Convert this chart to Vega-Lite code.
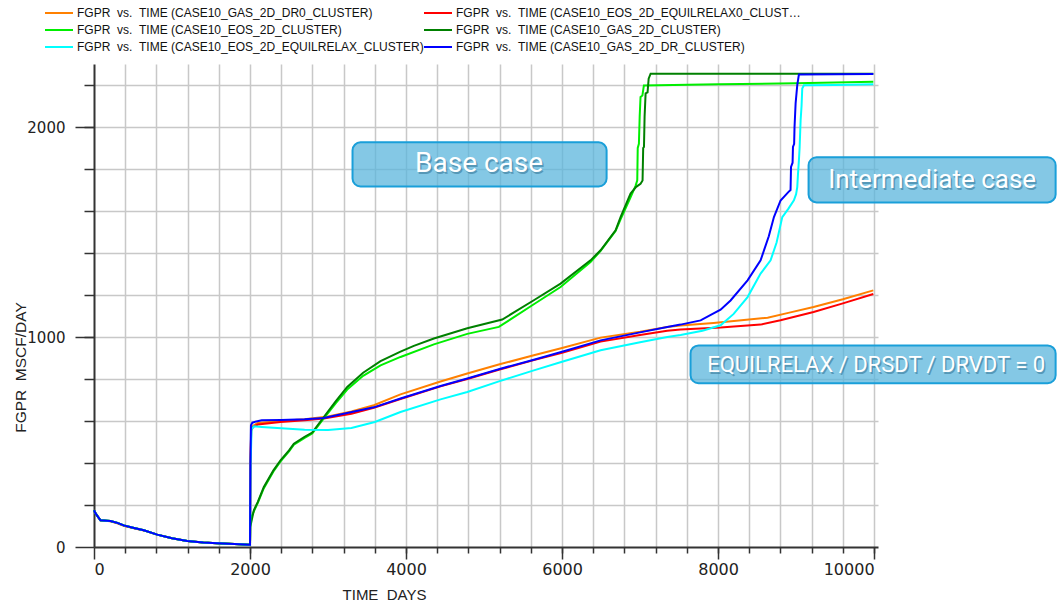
{
"$schema": "https://vega.github.io/schema/vega-lite/v6.json",
"width": 784, "height": 483,
"autosize": {"type": "none"},
"padding": {"left": 94, "top": 64, "right": 179, "bottom": 62},
"background": "#ffffff",
"config": {"view": {"stroke": null}, "axis": {"labelFont": "DejaVu Sans", "titleFont": "Liberation Sans"}},
"datasets": {
"notes": [
{"n":"Base case","x":3314,"x2":6571,"y":1927,"y2":1717,"tx":4936,"ty":1822},
{"n":"Intermediate case","x":9160,"x2":12327,"y":1856,"y2":1641,"tx":10744,"ty":1746},
{"n":"EQUILRELAX / DRSDT / DRVDT = 0","x":7647,"x2":12327,"y":960,"y2":780,"tx":10026,"ty":868}
],
"curves": [
{"s":"CASE10_GAS_2D_DR0_CLUSTER","t":0,"q":175},{"s":"CASE10_GAS_2D_DR0_CLUSTER","t":20,"q":160},{"s":"CASE10_GAS_2D_DR0_CLUSTER","t":83,"q":127},{"s":"CASE10_GAS_2D_DR0_CLUSTER","t":212,"q":124},{"s":"CASE10_GAS_2D_DR0_CLUSTER","t":300,"q":115},{"s":"CASE10_GAS_2D_DR0_CLUSTER","t":382,"q":103},{"s":"CASE10_GAS_2D_DR0_CLUSTER","t":500,"q":92},{"s":"CASE10_GAS_2D_DR0_CLUSTER","t":639,"q":80},{"s":"CASE10_GAS_2D_DR0_CLUSTER","t":810,"q":59},{"s":"CASE10_GAS_2D_DR0_CLUSTER","t":1000,"q":42},{"s":"CASE10_GAS_2D_DR0_CLUSTER","t":1195,"q":29},{"s":"CASE10_GAS_2D_DR0_CLUSTER","t":1400,"q":22},{"s":"CASE10_GAS_2D_DR0_CLUSTER","t":1579,"q":18},{"s":"CASE10_GAS_2D_DR0_CLUSTER","t":1800,"q":14},{"s":"CASE10_GAS_2D_DR0_CLUSTER","t":1990,"q":11},
{"s":"CASE10_GAS_2D_DR0_CLUSTER","t":2000,"q":11},{"s":"CASE10_GAS_2D_DR0_CLUSTER","t":2006,"q":400},{"s":"CASE10_GAS_2D_DR0_CLUSTER","t":2015,"q":560},{"s":"CASE10_GAS_2D_DR0_CLUSTER","t":2040,"q":578},{"s":"CASE10_GAS_2D_DR0_CLUSTER","t":2100,"q":590},{"s":"CASE10_GAS_2D_DR0_CLUSTER","t":2400,"q":600},{"s":"CASE10_GAS_2D_DR0_CLUSTER","t":2700,"q":608},{"s":"CASE10_GAS_2D_DR0_CLUSTER","t":3000,"q":622},{"s":"CASE10_GAS_2D_DR0_CLUSTER","t":3300,"q":645},{"s":"CASE10_GAS_2D_DR0_CLUSTER","t":3587,"q":675},{"s":"CASE10_GAS_2D_DR0_CLUSTER","t":3929,"q":727},{"s":"CASE10_GAS_2D_DR0_CLUSTER","t":4442,"q":788},{"s":"CASE10_GAS_2D_DR0_CLUSTER","t":4785,"q":826},{"s":"CASE10_GAS_2D_DR0_CLUSTER","t":5200,"q":870},{"s":"CASE10_GAS_2D_DR0_CLUSTER","t":5638,"q":913},{"s":"CASE10_GAS_2D_DR0_CLUSTER","t":6000,"q":948},{"s":"CASE10_GAS_2D_DR0_CLUSTER","t":6494,"q":997},{"s":"CASE10_GAS_2D_DR0_CLUSTER","t":7000,"q":1025},{"s":"CASE10_GAS_2D_DR0_CLUSTER","t":7348,"q":1048},{"s":"CASE10_GAS_2D_DR0_CLUSTER","t":7519,"q":1055},{"s":"CASE10_GAS_2D_DR0_CLUSTER","t":7942,"q":1067},{"s":"CASE10_GAS_2D_DR0_CLUSTER","t":8300,"q":1080},{"s":"CASE10_GAS_2D_DR0_CLUSTER","t":8635,"q":1092},{"s":"CASE10_GAS_2D_DR0_CLUSTER","t":8900,"q":1115},{"s":"CASE10_GAS_2D_DR0_CLUSTER","t":9224,"q":1143},{"s":"CASE10_GAS_2D_DR0_CLUSTER","t":9600,"q":1180},{"s":"CASE10_GAS_2D_DR0_CLUSTER","t":9990,"q":1222},
{"s":"CASE10_EOS_2D_EQUILRELAX0_CLUSTER","t":0,"q":175},{"s":"CASE10_EOS_2D_EQUILRELAX0_CLUSTER","t":20,"q":160},{"s":"CASE10_EOS_2D_EQUILRELAX0_CLUSTER","t":83,"q":127},{"s":"CASE10_EOS_2D_EQUILRELAX0_CLUSTER","t":212,"q":122},{"s":"CASE10_EOS_2D_EQUILRELAX0_CLUSTER","t":300,"q":113},{"s":"CASE10_EOS_2D_EQUILRELAX0_CLUSTER","t":382,"q":101},{"s":"CASE10_EOS_2D_EQUILRELAX0_CLUSTER","t":500,"q":90},{"s":"CASE10_EOS_2D_EQUILRELAX0_CLUSTER","t":639,"q":79},{"s":"CASE10_EOS_2D_EQUILRELAX0_CLUSTER","t":810,"q":59},{"s":"CASE10_EOS_2D_EQUILRELAX0_CLUSTER","t":1000,"q":42},{"s":"CASE10_EOS_2D_EQUILRELAX0_CLUSTER","t":1195,"q":29},{"s":"CASE10_EOS_2D_EQUILRELAX0_CLUSTER","t":1400,"q":22},{"s":"CASE10_EOS_2D_EQUILRELAX0_CLUSTER","t":1579,"q":18},{"s":"CASE10_EOS_2D_EQUILRELAX0_CLUSTER","t":1800,"q":14},{"s":"CASE10_EOS_2D_EQUILRELAX0_CLUSTER","t":1990,"q":11},
{"s":"CASE10_EOS_2D_EQUILRELAX0_CLUSTER","t":2000,"q":11},{"s":"CASE10_EOS_2D_EQUILRELAX0_CLUSTER","t":2006,"q":400},{"s":"CASE10_EOS_2D_EQUILRELAX0_CLUSTER","t":2015,"q":555},{"s":"CASE10_EOS_2D_EQUILRELAX0_CLUSTER","t":2040,"q":572},{"s":"CASE10_EOS_2D_EQUILRELAX0_CLUSTER","t":2100,"q":583},{"s":"CASE10_EOS_2D_EQUILRELAX0_CLUSTER","t":2391,"q":595},{"s":"CASE10_EOS_2D_EQUILRELAX0_CLUSTER","t":2700,"q":603},{"s":"CASE10_EOS_2D_EQUILRELAX0_CLUSTER","t":2946,"q":612},{"s":"CASE10_EOS_2D_EQUILRELAX0_CLUSTER","t":3300,"q":635},{"s":"CASE10_EOS_2D_EQUILRELAX0_CLUSTER","t":3587,"q":663},{"s":"CASE10_EOS_2D_EQUILRELAX0_CLUSTER","t":3929,"q":705},{"s":"CASE10_EOS_2D_EQUILRELAX0_CLUSTER","t":4442,"q":765},{"s":"CASE10_EOS_2D_EQUILRELAX0_CLUSTER","t":4785,"q":800},{"s":"CASE10_EOS_2D_EQUILRELAX0_CLUSTER","t":5200,"q":845},{"s":"CASE10_EOS_2D_EQUILRELAX0_CLUSTER","t":5638,"q":890},{"s":"CASE10_EOS_2D_EQUILRELAX0_CLUSTER","t":6000,"q":925},{"s":"CASE10_EOS_2D_EQUILRELAX0_CLUSTER","t":6494,"q":978},{"s":"CASE10_EOS_2D_EQUILRELAX0_CLUSTER","t":7000,"q":1010},{"s":"CASE10_EOS_2D_EQUILRELAX0_CLUSTER","t":7348,"q":1030},{"s":"CASE10_EOS_2D_EQUILRELAX0_CLUSTER","t":7519,"q":1036},{"s":"CASE10_EOS_2D_EQUILRELAX0_CLUSTER","t":8032,"q":1045},{"s":"CASE10_EOS_2D_EQUILRELAX0_CLUSTER","t":8545,"q":1059},{"s":"CASE10_EOS_2D_EQUILRELAX0_CLUSTER","t":8800,"q":1080},{"s":"CASE10_EOS_2D_EQUILRELAX0_CLUSTER","t":9224,"q":1119},{"s":"CASE10_EOS_2D_EQUILRELAX0_CLUSTER","t":9600,"q":1160},{"s":"CASE10_EOS_2D_EQUILRELAX0_CLUSTER","t":9990,"q":1205},
{"s":"CASE10_EOS_2D_CLUSTER","t":0,"q":175},{"s":"CASE10_EOS_2D_CLUSTER","t":20,"q":160},{"s":"CASE10_EOS_2D_CLUSTER","t":83,"q":127},{"s":"CASE10_EOS_2D_CLUSTER","t":212,"q":124},{"s":"CASE10_EOS_2D_CLUSTER","t":300,"q":115},{"s":"CASE10_EOS_2D_CLUSTER","t":382,"q":103},{"s":"CASE10_EOS_2D_CLUSTER","t":500,"q":92},{"s":"CASE10_EOS_2D_CLUSTER","t":639,"q":80},{"s":"CASE10_EOS_2D_CLUSTER","t":810,"q":59},{"s":"CASE10_EOS_2D_CLUSTER","t":1000,"q":42},{"s":"CASE10_EOS_2D_CLUSTER","t":1195,"q":29},{"s":"CASE10_EOS_2D_CLUSTER","t":1400,"q":22},{"s":"CASE10_EOS_2D_CLUSTER","t":1579,"q":18},{"s":"CASE10_EOS_2D_CLUSTER","t":1800,"q":14},{"s":"CASE10_EOS_2D_CLUSTER","t":1990,"q":11},
{"s":"CASE10_EOS_2D_CLUSTER","t":2000,"q":11},{"s":"CASE10_EOS_2D_CLUSTER","t":2003,"q":130},{"s":"CASE10_EOS_2D_CLUSTER","t":2049,"q":170},{"s":"CASE10_EOS_2D_CLUSTER","t":2100,"q":210},{"s":"CASE10_EOS_2D_CLUSTER","t":2177,"q":280},{"s":"CASE10_EOS_2D_CLUSTER","t":2300,"q":360},{"s":"CASE10_EOS_2D_CLUSTER","t":2391,"q":408},{"s":"CASE10_EOS_2D_CLUSTER","t":2500,"q":455},{"s":"CASE10_EOS_2D_CLUSTER","t":2562,"q":487},{"s":"CASE10_EOS_2D_CLUSTER","t":2700,"q":520},{"s":"CASE10_EOS_2D_CLUSTER","t":2797,"q":540},{"s":"CASE10_EOS_2D_CLUSTER","t":2946,"q":612},{"s":"CASE10_EOS_2D_CLUSTER","t":3100,"q":685},{"s":"CASE10_EOS_2D_CLUSTER","t":3246,"q":750},{"s":"CASE10_EOS_2D_CLUSTER","t":3450,"q":815},{"s":"CASE10_EOS_2D_CLUSTER","t":3673,"q":865},{"s":"CASE10_EOS_2D_CLUSTER","t":3929,"q":905},{"s":"CASE10_EOS_2D_CLUSTER","t":4357,"q":965},{"s":"CASE10_EOS_2D_CLUSTER","t":4785,"q":1015},{"s":"CASE10_EOS_2D_CLUSTER","t":5190,"q":1048},{"s":"CASE10_EOS_2D_CLUSTER","t":5638,"q":1156},{"s":"CASE10_EOS_2D_CLUSTER","t":5981,"q":1238},{"s":"CASE10_EOS_2D_CLUSTER","t":6365,"q":1357},{"s":"CASE10_EOS_2D_CLUSTER","t":6494,"q":1410},{"s":"CASE10_EOS_2D_CLUSTER","t":6686,"q":1505},{"s":"CASE10_EOS_2D_CLUSTER","t":6750,"q":1560},{"s":"CASE10_EOS_2D_CLUSTER","t":6878,"q":1665},{"s":"CASE10_EOS_2D_CLUSTER","t":6942,"q":1720},{"s":"CASE10_EOS_2D_CLUSTER","t":6964,"q":1746},{"s":"CASE10_EOS_2D_CLUSTER","t":6970,"q":1900},{"s":"CASE10_EOS_2D_CLUSTER","t":6985,"q":1920},{"s":"CASE10_EOS_2D_CLUSTER","t":6995,"q":2050},{"s":"CASE10_EOS_2D_CLUSTER","t":7006,"q":2143},{"s":"CASE10_EOS_2D_CLUSTER","t":7030,"q":2150},{"s":"CASE10_EOS_2D_CLUSTER","t":7049,"q":2198},{"s":"CASE10_EOS_2D_CLUSTER","t":8000,"q":2203},{"s":"CASE10_EOS_2D_CLUSTER","t":9000,"q":2208},{"s":"CASE10_EOS_2D_CLUSTER","t":9990,"q":2215},
{"s":"CASE10_GAS_2D_CLUSTER","t":0,"q":175},{"s":"CASE10_GAS_2D_CLUSTER","t":20,"q":160},{"s":"CASE10_GAS_2D_CLUSTER","t":83,"q":127},{"s":"CASE10_GAS_2D_CLUSTER","t":212,"q":124},{"s":"CASE10_GAS_2D_CLUSTER","t":300,"q":115},{"s":"CASE10_GAS_2D_CLUSTER","t":382,"q":103},{"s":"CASE10_GAS_2D_CLUSTER","t":500,"q":92},{"s":"CASE10_GAS_2D_CLUSTER","t":639,"q":80},{"s":"CASE10_GAS_2D_CLUSTER","t":810,"q":59},{"s":"CASE10_GAS_2D_CLUSTER","t":1000,"q":42},{"s":"CASE10_GAS_2D_CLUSTER","t":1195,"q":29},{"s":"CASE10_GAS_2D_CLUSTER","t":1400,"q":22},{"s":"CASE10_GAS_2D_CLUSTER","t":1579,"q":18},{"s":"CASE10_GAS_2D_CLUSTER","t":1800,"q":14},{"s":"CASE10_GAS_2D_CLUSTER","t":1990,"q":11},
{"s":"CASE10_GAS_2D_CLUSTER","t":2000,"q":11},{"s":"CASE10_GAS_2D_CLUSTER","t":2003,"q":95},{"s":"CASE10_GAS_2D_CLUSTER","t":2049,"q":175},{"s":"CASE10_GAS_2D_CLUSTER","t":2100,"q":215},{"s":"CASE10_GAS_2D_CLUSTER","t":2177,"q":286},{"s":"CASE10_GAS_2D_CLUSTER","t":2300,"q":365},{"s":"CASE10_GAS_2D_CLUSTER","t":2391,"q":413},{"s":"CASE10_GAS_2D_CLUSTER","t":2500,"q":460},{"s":"CASE10_GAS_2D_CLUSTER","t":2562,"q":492},{"s":"CASE10_GAS_2D_CLUSTER","t":2700,"q":525},{"s":"CASE10_GAS_2D_CLUSTER","t":2797,"q":545},{"s":"CASE10_GAS_2D_CLUSTER","t":2946,"q":619},{"s":"CASE10_GAS_2D_CLUSTER","t":3100,"q":695},{"s":"CASE10_GAS_2D_CLUSTER","t":3246,"q":762},{"s":"CASE10_GAS_2D_CLUSTER","t":3450,"q":830},{"s":"CASE10_GAS_2D_CLUSTER","t":3673,"q":885},{"s":"CASE10_GAS_2D_CLUSTER","t":3929,"q":930},{"s":"CASE10_GAS_2D_CLUSTER","t":4100,"q":958},{"s":"CASE10_GAS_2D_CLUSTER","t":4357,"q":993},{"s":"CASE10_GAS_2D_CLUSTER","t":4785,"q":1042},{"s":"CASE10_GAS_2D_CLUSTER","t":5233,"q":1083},{"s":"CASE10_GAS_2D_CLUSTER","t":5638,"q":1175},{"s":"CASE10_GAS_2D_CLUSTER","t":5981,"q":1254},{"s":"CASE10_GAS_2D_CLUSTER","t":6365,"q":1365},{"s":"CASE10_GAS_2D_CLUSTER","t":6494,"q":1413},{"s":"CASE10_GAS_2D_CLUSTER","t":6686,"q":1508},{"s":"CASE10_GAS_2D_CLUSTER","t":6750,"q":1571},{"s":"CASE10_GAS_2D_CLUSTER","t":6878,"q":1683},{"s":"CASE10_GAS_2D_CLUSTER","t":6950,"q":1715},{"s":"CASE10_GAS_2D_CLUSTER","t":7006,"q":1730},{"s":"CASE10_GAS_2D_CLUSTER","t":7032,"q":1745},{"s":"CASE10_GAS_2D_CLUSTER","t":7040,"q":1900},{"s":"CASE10_GAS_2D_CLUSTER","t":7050,"q":1905},{"s":"CASE10_GAS_2D_CLUSTER","t":7058,"q":2050},{"s":"CASE10_GAS_2D_CLUSTER","t":7071,"q":2160},{"s":"CASE10_GAS_2D_CLUSTER","t":7096,"q":2165},{"s":"CASE10_GAS_2D_CLUSTER","t":7110,"q":2230},{"s":"CASE10_GAS_2D_CLUSTER","t":7135,"q":2254},{"s":"CASE10_GAS_2D_CLUSTER","t":9990,"q":2254},
{"s":"CASE10_EOS_2D_EQUILRELAX_CLUSTER","t":0,"q":175},{"s":"CASE10_EOS_2D_EQUILRELAX_CLUSTER","t":20,"q":160},{"s":"CASE10_EOS_2D_EQUILRELAX_CLUSTER","t":83,"q":127},{"s":"CASE10_EOS_2D_EQUILRELAX_CLUSTER","t":212,"q":124},{"s":"CASE10_EOS_2D_EQUILRELAX_CLUSTER","t":300,"q":115},{"s":"CASE10_EOS_2D_EQUILRELAX_CLUSTER","t":382,"q":103},{"s":"CASE10_EOS_2D_EQUILRELAX_CLUSTER","t":500,"q":92},{"s":"CASE10_EOS_2D_EQUILRELAX_CLUSTER","t":639,"q":80},{"s":"CASE10_EOS_2D_EQUILRELAX_CLUSTER","t":810,"q":59},{"s":"CASE10_EOS_2D_EQUILRELAX_CLUSTER","t":1000,"q":42},{"s":"CASE10_EOS_2D_EQUILRELAX_CLUSTER","t":1195,"q":29},{"s":"CASE10_EOS_2D_EQUILRELAX_CLUSTER","t":1400,"q":22},{"s":"CASE10_EOS_2D_EQUILRELAX_CLUSTER","t":1579,"q":18},{"s":"CASE10_EOS_2D_EQUILRELAX_CLUSTER","t":1800,"q":14},{"s":"CASE10_EOS_2D_EQUILRELAX_CLUSTER","t":1990,"q":11},
{"s":"CASE10_EOS_2D_EQUILRELAX_CLUSTER","t":2000,"q":11},{"s":"CASE10_EOS_2D_EQUILRELAX_CLUSTER","t":2008,"q":400},{"s":"CASE10_EOS_2D_EQUILRELAX_CLUSTER","t":2020,"q":560},{"s":"CASE10_EOS_2D_EQUILRELAX_CLUSTER","t":2050,"q":575},{"s":"CASE10_EOS_2D_EQUILRELAX_CLUSTER","t":2150,"q":572},{"s":"CASE10_EOS_2D_EQUILRELAX_CLUSTER","t":2400,"q":565},{"s":"CASE10_EOS_2D_EQUILRELAX_CLUSTER","t":2700,"q":558},{"s":"CASE10_EOS_2D_EQUILRELAX_CLUSTER","t":3000,"q":557},{"s":"CASE10_EOS_2D_EQUILRELAX_CLUSTER","t":3300,"q":567},{"s":"CASE10_EOS_2D_EQUILRELAX_CLUSTER","t":3600,"q":595},{"s":"CASE10_EOS_2D_EQUILRELAX_CLUSTER","t":3929,"q":643},{"s":"CASE10_EOS_2D_EQUILRELAX_CLUSTER","t":4442,"q":703},{"s":"CASE10_EOS_2D_EQUILRELAX_CLUSTER","t":4785,"q":738},{"s":"CASE10_EOS_2D_EQUILRELAX_CLUSTER","t":5200,"q":790},{"s":"CASE10_EOS_2D_EQUILRELAX_CLUSTER","t":5638,"q":841},{"s":"CASE10_EOS_2D_EQUILRELAX_CLUSTER","t":6000,"q":882},{"s":"CASE10_EOS_2D_EQUILRELAX_CLUSTER","t":6494,"q":937},{"s":"CASE10_EOS_2D_EQUILRELAX_CLUSTER","t":7000,"q":975},{"s":"CASE10_EOS_2D_EQUILRELAX_CLUSTER","t":7348,"q":1000},{"s":"CASE10_EOS_2D_EQUILRELAX_CLUSTER","t":7519,"q":1010},{"s":"CASE10_EOS_2D_EQUILRELAX_CLUSTER","t":7800,"q":1030},{"s":"CASE10_EOS_2D_EQUILRELAX_CLUSTER","t":8032,"q":1056},{"s":"CASE10_EOS_2D_EQUILRELAX_CLUSTER","t":8200,"q":1110},{"s":"CASE10_EOS_2D_EQUILRELAX_CLUSTER","t":8378,"q":1190},{"s":"CASE10_EOS_2D_EQUILRELAX_CLUSTER","t":8545,"q":1302},{"s":"CASE10_EOS_2D_EQUILRELAX_CLUSTER","t":8673,"q":1365},{"s":"CASE10_EOS_2D_EQUILRELAX_CLUSTER","t":8750,"q":1450},{"s":"CASE10_EOS_2D_EQUILRELAX_CLUSTER","t":8823,"q":1571},{"s":"CASE10_EOS_2D_EQUILRELAX_CLUSTER","t":8900,"q":1610},{"s":"CASE10_EOS_2D_EQUILRELAX_CLUSTER","t":8972,"q":1651},{"s":"CASE10_EOS_2D_EQUILRELAX_CLUSTER","t":9000,"q":1680},{"s":"CASE10_EOS_2D_EQUILRELAX_CLUSTER","t":9015,"q":1714},{"s":"CASE10_EOS_2D_EQUILRELAX_CLUSTER","t":9025,"q":1780},{"s":"CASE10_EOS_2D_EQUILRELAX_CLUSTER","t":9036,"q":1841},{"s":"CASE10_EOS_2D_EQUILRELAX_CLUSTER","t":9045,"q":1900},{"s":"CASE10_EOS_2D_EQUILRELAX_CLUSTER","t":9058,"q":2032},{"s":"CASE10_EOS_2D_EQUILRELAX_CLUSTER","t":9070,"q":2100},{"s":"CASE10_EOS_2D_EQUILRELAX_CLUSTER","t":9079,"q":2183},{"s":"CASE10_EOS_2D_EQUILRELAX_CLUSTER","t":9100,"q":2199},{"s":"CASE10_EOS_2D_EQUILRELAX_CLUSTER","t":9500,"q":2200},{"s":"CASE10_EOS_2D_EQUILRELAX_CLUSTER","t":9990,"q":2203},
{"s":"CASE10_GAS_2D_DR_CLUSTER","t":0,"q":175},{"s":"CASE10_GAS_2D_DR_CLUSTER","t":20,"q":160},{"s":"CASE10_GAS_2D_DR_CLUSTER","t":83,"q":127},{"s":"CASE10_GAS_2D_DR_CLUSTER","t":212,"q":124},{"s":"CASE10_GAS_2D_DR_CLUSTER","t":300,"q":115},{"s":"CASE10_GAS_2D_DR_CLUSTER","t":382,"q":103},{"s":"CASE10_GAS_2D_DR_CLUSTER","t":500,"q":92},{"s":"CASE10_GAS_2D_DR_CLUSTER","t":639,"q":80},{"s":"CASE10_GAS_2D_DR_CLUSTER","t":810,"q":59},{"s":"CASE10_GAS_2D_DR_CLUSTER","t":1000,"q":42},{"s":"CASE10_GAS_2D_DR_CLUSTER","t":1195,"q":29},{"s":"CASE10_GAS_2D_DR_CLUSTER","t":1400,"q":22},{"s":"CASE10_GAS_2D_DR_CLUSTER","t":1579,"q":18},{"s":"CASE10_GAS_2D_DR_CLUSTER","t":1800,"q":14},{"s":"CASE10_GAS_2D_DR_CLUSTER","t":1990,"q":11},
{"s":"CASE10_GAS_2D_DR_CLUSTER","t":2000,"q":11},{"s":"CASE10_GAS_2D_DR_CLUSTER","t":2005,"q":400},{"s":"CASE10_GAS_2D_DR_CLUSTER","t":2012,"q":580},{"s":"CASE10_GAS_2D_DR_CLUSTER","t":2030,"q":592},{"s":"CASE10_GAS_2D_DR_CLUSTER","t":2080,"q":598},{"s":"CASE10_GAS_2D_DR_CLUSTER","t":2150,"q":603},{"s":"CASE10_GAS_2D_DR_CLUSTER","t":2400,"q":605},{"s":"CASE10_GAS_2D_DR_CLUSTER","t":2700,"q":608},{"s":"CASE10_GAS_2D_DR_CLUSTER","t":2946,"q":614},{"s":"CASE10_GAS_2D_DR_CLUSTER","t":3200,"q":635},{"s":"CASE10_GAS_2D_DR_CLUSTER","t":3587,"q":665},{"s":"CASE10_GAS_2D_DR_CLUSTER","t":3929,"q":707},{"s":"CASE10_GAS_2D_DR_CLUSTER","t":4442,"q":767},{"s":"CASE10_GAS_2D_DR_CLUSTER","t":4785,"q":802},{"s":"CASE10_GAS_2D_DR_CLUSTER","t":5200,"q":848},{"s":"CASE10_GAS_2D_DR_CLUSTER","t":5638,"q":892},{"s":"CASE10_GAS_2D_DR_CLUSTER","t":6000,"q":930},{"s":"CASE10_GAS_2D_DR_CLUSTER","t":6494,"q":984},{"s":"CASE10_GAS_2D_DR_CLUSTER","t":7000,"q":1022},{"s":"CASE10_GAS_2D_DR_CLUSTER","t":7348,"q":1048},{"s":"CASE10_GAS_2D_DR_CLUSTER","t":7519,"q":1059},{"s":"CASE10_GAS_2D_DR_CLUSTER","t":7776,"q":1079},{"s":"CASE10_GAS_2D_DR_CLUSTER","t":7942,"q":1112},{"s":"CASE10_GAS_2D_DR_CLUSTER","t":8032,"q":1130},{"s":"CASE10_GAS_2D_DR_CLUSTER","t":8160,"q":1174},{"s":"CASE10_GAS_2D_DR_CLUSTER","t":8378,"q":1270},{"s":"CASE10_GAS_2D_DR_CLUSTER","t":8545,"q":1365},{"s":"CASE10_GAS_2D_DR_CLUSTER","t":8650,"q":1480},{"s":"CASE10_GAS_2D_DR_CLUSTER","t":8716,"q":1571},{"s":"CASE10_GAS_2D_DR_CLUSTER","t":8801,"q":1650},{"s":"CASE10_GAS_2D_DR_CLUSTER","t":8900,"q":1690},{"s":"CASE10_GAS_2D_DR_CLUSTER","t":8929,"q":1700},{"s":"CASE10_GAS_2D_DR_CLUSTER","t":8935,"q":1810},{"s":"CASE10_GAS_2D_DR_CLUSTER","t":8955,"q":1830},{"s":"CASE10_GAS_2D_DR_CLUSTER","t":8960,"q":1905},{"s":"CASE10_GAS_2D_DR_CLUSTER","t":8975,"q":1920},{"s":"CASE10_GAS_2D_DR_CLUSTER","t":8980,"q":2000},{"s":"CASE10_GAS_2D_DR_CLUSTER","t":8994,"q":2113},{"s":"CASE10_GAS_2D_DR_CLUSTER","t":9015,"q":2199},{"s":"CASE10_GAS_2D_DR_CLUSTER","t":9036,"q":2250},{"s":"CASE10_GAS_2D_DR_CLUSTER","t":9990,"q":2252}
]
},
"resolve": {"axis": {"x": "independent", "y": "independent"}},
"layer": [
{
"data": {"name": "curves"},
"mark": {"type": "line", "strokeWidth": 2},
"encoding": {
"x": {"field": "t", "type": "quantitative", "scale": {"domain": [0, 10050], "nice": false, "zero": false},
 "axis": {"orient": "bottom", "values": [0,2000,4000,6000,8000,10000], "format": "d", "grid": false, "tickSize": 12, "tickWidth": 1.5, "tickColor": "#333333", "domainColor": "#333333", "domainWidth": 2, "labelFontSize": 16, "labelColor": "#222222", "labelPadding": 2, "labelFlush": 6, "labelOverlap": false, "title": "TIME\u00a0\u00a0DAYS", "titleFontSize": 15, "titleFontWeight": "normal", "titleColor": "#222222", "titleX": 290, "titleY": 47, "titleBaseline": "middle", "titleAlign": "center"}},
"y": {"field": "q", "type": "quantitative", "scale": {"domain": [0, 2300], "nice": false},
 "axis": {"orient": "left", "values": [0,1000,2000], "format": "d", "grid": false, "tickSize": 19, "tickWidth": 1.5, "tickColor": "#333333", "domainColor": "#333333", "domainWidth": 2, "labelFontSize": 15, "labelColor": "#222222", "labelPadding": 10, "labelOverlap": false, "title": "FGPR\u00a0\u00a0MSCF/DAY", "titleFontSize": 15.5, "titleFontWeight": "normal", "titleColor": "#222222", "titleX": -74, "titleY": 303, "titleAngle": -90, "titleBaseline": "middle", "titleAlign": "center"}},
"color": {"field": "s", "type": "nominal",
 "scale": {"domain": ["CASE10_GAS_2D_DR0_CLUSTER","CASE10_EOS_2D_CLUSTER","CASE10_EOS_2D_EQUILRELAX_CLUSTER","CASE10_EOS_2D_EQUILRELAX0_CLUSTER","CASE10_GAS_2D_CLUSTER","CASE10_GAS_2D_DR_CLUSTER"],
  "range": ["#ff8000","#00ee00","#00ffff","#ff0000","#008000","#0000ff"]},
 "legend": {"orient": "none", "legendX": -41, "legendY": -57, "columns": 2, "title": null, "padding": 0,
  "symbolType": "M-2.8,0H2.8", "symbolSize": 100, "symbolStrokeWidth": 2,
  "labelFont": "Liberation Sans", "labelFontSize": 12, "labelColor": "#111111", "labelOffset": 12, "labelLimit": 352,
  "columnPadding": -4, "rowPadding": 5,
  "labelExpr": "'FGPR\u00a0\u00a0vs.\u00a0\u00a0TIME (' + datum.label + ')'"}}
}
},
{
"data": {"name": "notes"},
"mark": {"type": "rect", "cornerRadius": 8, "fill": "#5bb5dc", "fillOpacity": 0.75, "stroke": "#1a9fd9", "strokeWidth": 2},
"encoding": {
"x": {"field": "x", "type": "quantitative", "scale": {"domain": [0, 10050], "nice": false, "zero": false},
 "axis": {"orient": "bottom", "values": [400,800,1200,1600,2000,2400,2800,3200,3600,4000,4400,4800,5200,5600,6000,6400,6800,7200,7600,8000,8400,8800,9200,9600,10000], "grid": true, "gridColor": "#c8c8c8", "gridWidth": 1.5, "tickSize": 6, "tickWidth": 1.5, "tickColor": "#333333", "labels": false, "domain": false, "title": null}},
"x2": {"field": "x2"},
"y": {"field": "y", "type": "quantitative", "scale": {"domain": [0, 2300], "nice": false},
 "axis": {"orient": "left", "values": [200,400,600,800,1000,1200,1400,1600,1800,2000,2200], "grid": true, "gridColor": "#c8c8c8", "gridWidth": 1.5, "tickSize": 10, "tickWidth": 1.5, "tickColor": "#333333", "labels": false, "domain": false, "title": null}},
"y2": {"field": "y2"}
}
},
{
"data": {"name": "notes"},
"mark": {"type": "text", "font": "Roboto", "fill": "#1f5f80", "opacity": 0.45, "dx": 1.5, "dy": 2, "baseline": "middle", "align": "center"},
"encoding": {
"x": {"field": "tx", "type": "quantitative", "scale": {"domain": [0, 10050], "nice": false, "zero": false}, "axis": null},
"y": {"field": "ty", "type": "quantitative", "scale": {"domain": [0, 2300], "nice": false}, "axis": null},
"text": {"field": "n"},
"size": {"condition": [{"test": "datum.n === 'EQUILRELAX / DRSDT / DRVDT = 0'", "value": 22}, {"test": "datum.n === 'Intermediate case'", "value": 26}], "value": 28}
}
},
{
"data": {"name": "notes"},
"mark": {"type": "text", "font": "Roboto", "fill": "#ffffff", "baseline": "middle", "align": "center"},
"encoding": {
"x": {"field": "tx", "type": "quantitative", "scale": {"domain": [0, 10050], "nice": false, "zero": false}, "axis": null},
"y": {"field": "ty", "type": "quantitative", "scale": {"domain": [0, 2300], "nice": false}, "axis": null},
"text": {"field": "n"},
"size": {"condition": [{"test": "datum.n === 'EQUILRELAX / DRSDT / DRVDT = 0'", "value": 22}, {"test": "datum.n === 'Intermediate case'", "value": 26}], "value": 28}
}
}
]
}
